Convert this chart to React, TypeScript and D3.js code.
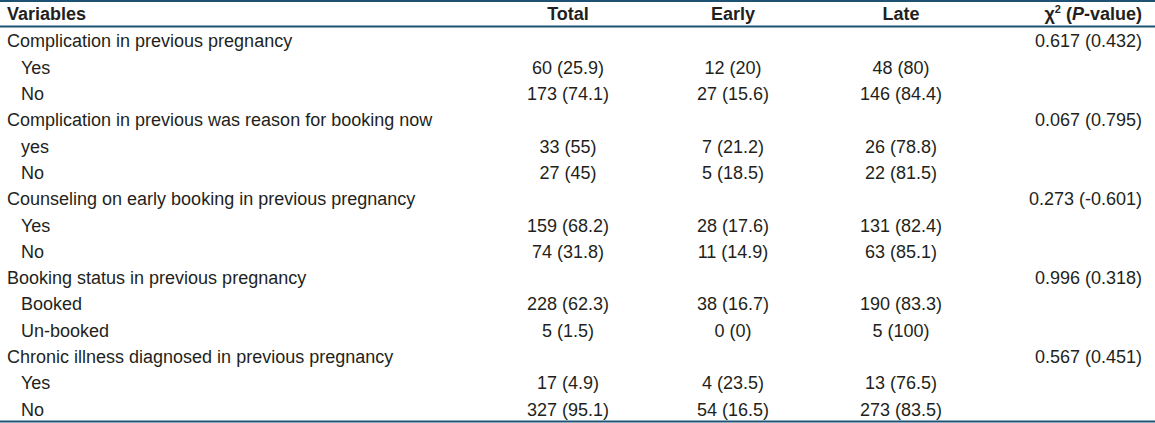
import React from "react";
import * as d3 from "d3";

const W = 1155;
const H = 423;

const groupLabels = [
  "Complication in previous pregnancy",
  "Complication in previous was reason for booking now",
  "Counseling on early booking in previous pregnancy",
  "Booking status in previous pregnancy",
  "Chronic illness diagnosed in previous pregnancy",
];
const chiValues = ["0.617 (0.432)", "0.067 (0.795)", "0.273 (-0.601)", "0.996 (0.318)", "0.567 (0.451)"];
const subLabels = [
  ["Yes", "No"],
  ["yes", "No"],
  ["Yes", "No"],
  ["Booked", "Un-booked"],
  ["Yes", "No"],
];
const totalValues = [
  ["60 (25.9)", "173 (74.1)"],
  ["33 (55)", "27 (45)"],
  ["159 (68.2)", "74 (31.8)"],
  ["228 (62.3)", "5 (1.5)"],
  ["17 (4.9)", "327 (95.1)"],
];
const earlyValues = [
  ["12 (20)", "27 (15.6)"],
  ["7 (21.2)", "5 (18.5)"],
  ["28 (17.6)", "11 (14.9)"],
  ["38 (16.7)", "0 (0)"],
  ["4 (23.5)", "54 (16.5)"],
];
const lateValues = [
  ["48 (80)", "146 (84.4)"],
  ["26 (78.8)", "22 (81.5)"],
  ["131 (82.4)", "63 (85.1)"],
  ["190 (83.3)", "5 (100)"],
  ["13 (76.5)", "273 (83.5)"],
];
const headers = ["Variables", "Total", "Early", "Late"];

type Row = { kind: "group" | "sub"; label: string; total?: string; early?: string; late?: string; chi?: string };

const rows: Row[] = [];
groupLabels.forEach((g, gi) => {
  rows.push({ kind: "group", label: g, chi: chiValues[gi] });
  subLabels[gi].forEach((s, si) => {
    rows.push({
      kind: "sub",
      label: s,
      total: totalValues[gi][si],
      early: earlyValues[gi][si],
      late: lateValues[gi][si],
    });
  });
});

const FONT = "'Liberation Sans', Arial, sans-serif";
const TEXT = "#231f20";
const LINE = "#1d5275";

export default function App() {
  const y = d3.scaleLinear().domain([0, rows.length - 1]).range([47.3, 415.7]);
  const colX = d3
    .scaleOrdinal<string, number>()
    .domain(["label", "sub", "total", "early", "late", "chi"])
    .range([7, 21, 568, 733, 901, 1142]);

  return (
    <svg
      width={W}
      height={H}
      style={{ position: "absolute", left: 0, top: 0, background: "#fff" }}
      fontFamily={FONT}
      fontSize={18}
      fill={TEXT}
    >
      <rect width={W} height={H} fill="#fff" />
      <line x1={0} x2={W} y1={1} y2={1} stroke={LINE} strokeWidth={2} />
      <line x1={0} x2={W} y1={26.5} y2={26.5} stroke={LINE} strokeWidth={2} />
      <line x1={0} x2={W} y1={421.5} y2={421.5} stroke={LINE} strokeWidth={2} />

      <g fontWeight="bold">
        <text x={colX("label")} y={20}>{headers[0]}</text>
        <text x={colX("total")} y={20} textAnchor="middle">{headers[1]}</text>
        <text x={colX("early")} y={20} textAnchor="middle">{headers[2]}</text>
        <text x={colX("late")} y={20} textAnchor="middle">{headers[3]}</text>
        <text x={colX("chi")} y={20} textAnchor="end">
          χ<tspan fontSize={11} dy={-7}>2</tspan>
          <tspan dy={7}> (</tspan>
          <tspan fontStyle="italic">P</tspan>
          <tspan>-value)</tspan>
        </text>
      </g>

      {rows.map((r, i) => (
        <g key={i}>
          <text x={r.kind === "group" ? colX("label") : colX("sub")} y={y(i)}>
            {r.label}
          </text>
          {r.total && (
            <text x={colX("total")} y={y(i)} textAnchor="middle">{r.total}</text>
          )}
          {r.early && (
            <text x={colX("early")} y={y(i)} textAnchor="middle">{r.early}</text>
          )}
          {r.late && (
            <text x={colX("late")} y={y(i)} textAnchor="middle">{r.late}</text>
          )}
          {r.chi && (
            <text x={colX("chi")} y={y(i)} textAnchor="end">{r.chi}</text>
          )}
        </g>
      ))}
    </svg>
  );
}
